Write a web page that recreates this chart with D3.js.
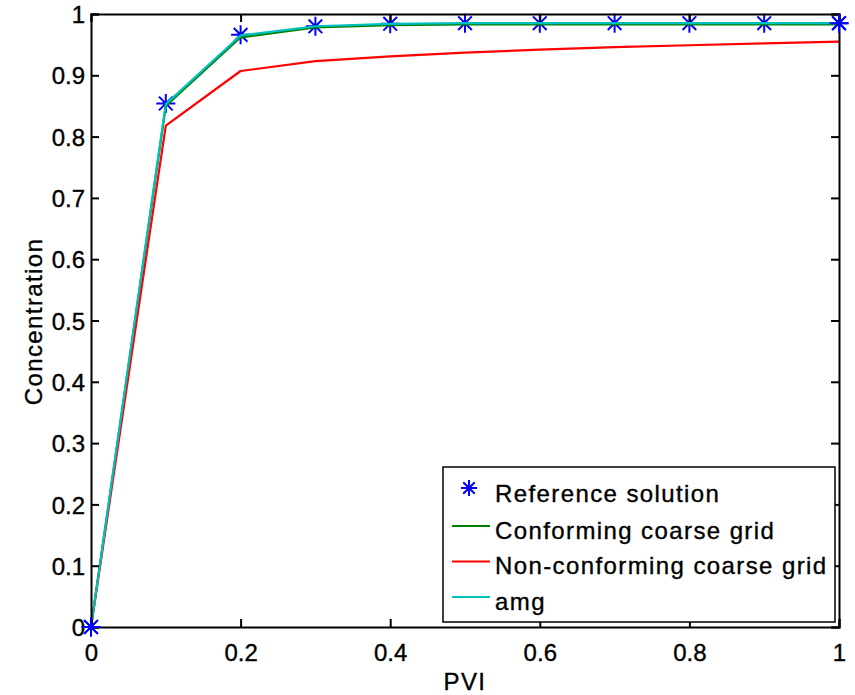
<!DOCTYPE html>
<html>
<head>
<meta charset="utf-8">
<script src="https://cdn.jsdelivr.net/npm/d3@7"></script>
<style>
  html, body { margin: 0; padding: 0; background: #fff; }
  svg { display: block; font-family: "Liberation Sans", Arial, Helvetica, sans-serif; }
  svg text { stroke: #000; stroke-width: 0.35px; }
</style>
</head>
<body>
<svg id="chart" width="855" height="695"></svg>
<script>
// PVI sample points
const pvi = [0, 0.1, 0.2, 0.3, 0.4, 0.5, 0.6, 0.7, 0.8, 0.9, 1.0];
// Concentration series
const referenceSolution = [0, 0.854, 0.966, 0.980, 0.984, 0.985, 0.985, 0.985, 0.985, 0.985, 0.985];
const conformingCoarse  = [0, 0.850, 0.962, 0.978, 0.982, 0.983, 0.983, 0.983, 0.983, 0.983, 0.983];
const nonConforming     = [0, 0.818, 0.907, 0.923, 0.931, 0.937, 0.942, 0.946, 0.949, 0.952, 0.955];
const amg               = [0, 0.853, 0.965, 0.980, 0.984, 0.985, 0.985, 0.985, 0.985, 0.985, 0.985];

const xTicks = [0, 0.2, 0.4, 0.6, 0.8, 1];
const yTicks = [0, 0.1, 0.2, 0.3, 0.4, 0.5, 0.6, 0.7, 0.8, 0.9, 1];

const legendLabels = ["Reference solution", "Conforming coarse grid", "Non-conforming coarse grid", "amg"];

const svg = d3.select("#chart");
const margin = { left: 91, right: 16, top: 14, bottom: 68 };
const W = 855, H = 695;
const x = d3.scaleLinear().domain([0, 1]).range([margin.left, W - margin.right]);
const y = d3.scaleLinear().domain([0, 1]).range([H - margin.bottom, margin.top]);

const tickLen = 8;
const fontSize = 24;
const spacing = 1.4;

// Axes: ticks point inward on all four sides
const axisB = d3.axisBottom(x).tickValues(xTicks).tickSize(-tickLen).tickPadding(17).tickFormat(d3.format("~g"));
const axisT = d3.axisTop(x).tickValues(xTicks).tickSize(-tickLen).tickFormat("");
const axisL = d3.axisLeft(y).tickValues(yTicks).tickSize(-tickLen).tickPadding(6).tickFormat(d3.format("~g"));
const axisR = d3.axisRight(y).tickValues(yTicks).tickSize(-tickLen).tickFormat("");

function styleAxis(g) {
  g.selectAll("path.domain").attr("stroke", "#000").attr("stroke-width", 2);
  g.selectAll(".tick line").attr("stroke", "#000").attr("stroke-width", 2);
  g.selectAll(".tick text").attr("fill", "#000").attr("font-size", fontSize)
    .attr("font-family", "Liberation Sans, Arial, sans-serif");
}

const plot = svg.append("g");

// Asterisk markers
function asterisk(g, cx, cy, r) {
  const p = [];
  p.push(`M${cx - r},${cy}L${cx + r},${cy}`);
  p.push(`M${cx},${cy - r}L${cx},${cy + r}`);
  const d = r * 0.72;
  p.push(`M${cx - d},${cy - d}L${cx + d},${cy + d}`);
  p.push(`M${cx - d},${cy + d}L${cx + d},${cy - d}`);
  g.append("path").attr("d", p.join("")).attr("stroke", "#0000ff").attr("stroke-width", 2).attr("fill", "none");
}
const markers = plot.append("g");
referenceSolution.forEach((v, i) => asterisk(markers, x(pvi[i]), y(v), 9.5));

// Line series
const line = d3.line().x((d, i) => x(pvi[i])).y(d => y(d));
const series = [
  { data: conformingCoarse, color: "#008000" },
  { data: nonConforming, color: "#ff0000" },
  { data: amg, color: "#00bfbf" }
];
series.forEach(s => {
  plot.append("path").datum(s.data)
    .attr("d", line)
    .attr("fill", "none")
    .attr("stroke", s.color)
    .attr("stroke-width", 2.2)
    .attr("stroke-linejoin", "round");
});

// Axes drawn over the data
svg.append("g").attr("transform", `translate(0,${y(0)})`).call(axisB).call(styleAxis);
svg.append("g").attr("transform", `translate(0,${y(1)})`).call(axisT).call(styleAxis);
const gL = svg.append("g").attr("transform", `translate(${x(0)},0)`).call(axisL).call(styleAxis);
svg.append("g").attr("transform", `translate(${x(1)},0)`).call(axisR).call(styleAxis);
gL.selectAll(".tick text").attr("dy", "0.36em");

// Markers sitting on the axes stay visible
svg.append("g").call(g => {
  asterisk(g, x(pvi[0]), y(referenceSolution[0]), 9.5);
  asterisk(g, x(pvi[10]), y(referenceSolution[10]), 9.5);
});

// Axis titles
svg.append("text")
  .attr("x", (x(0) + x(1)) / 2).attr("y", 690)
  .attr("text-anchor", "middle").attr("font-size", fontSize)
  .attr("letter-spacing", spacing).text("PVI");
svg.append("text")
  .attr("transform", `translate(42,${(y(0) + y(1)) / 2 + 1}) rotate(-90)`)
  .attr("text-anchor", "middle").attr("font-size", fontSize)
  .attr("letter-spacing", spacing).text("Concentration");

// Legend
const lg = svg.append("g");
const lx = 443, ly = 467, lw = 392, lh = 155;
lg.append("rect").attr("x", lx).attr("y", ly).attr("width", lw).attr("height", lh)
  .attr("fill", "#fff").attr("stroke", "#000").attr("stroke-width", 1.5);
const rowY = [493, 530, 565.5, 601];
const legendColors = [null, "#008000", "#ff0000", "#00bfbf"];
legendLabels.forEach((lab, i) => {
  if (i === 0) {
    asterisk(lg, 469, rowY[i] - 5, 8);
  } else {
    lg.append("line").attr("x1", 452).attr("x2", 490).attr("y1", rowY[i] - 4).attr("y2", rowY[i] - 4)
      .attr("stroke", legendColors[i]).attr("stroke-width", 2);
  }
  lg.append("text").attr("x", 495).attr("y", rowY[i]).attr("dy", "0.36em")
    .attr("font-size", fontSize).attr("letter-spacing", spacing).attr("fill", "#000").text(lab);
});
</script>
</body>
</html>
